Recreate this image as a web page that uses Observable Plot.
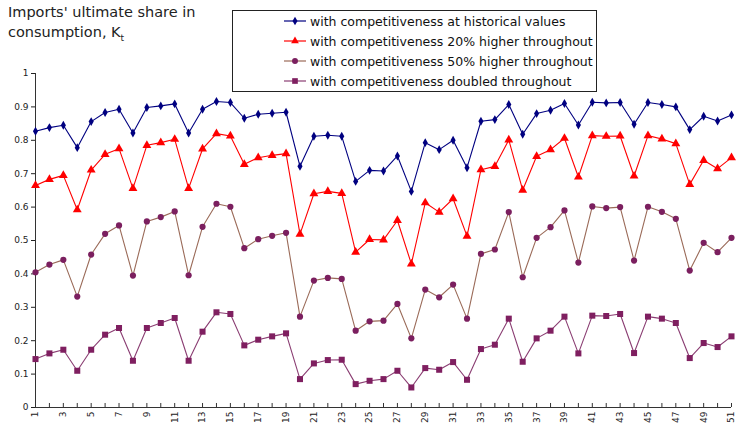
<!DOCTYPE html>
<html><head><meta charset="utf-8">
<script src="https://cdn.jsdelivr.net/npm/d3@7"></script>
<script src="https://cdn.jsdelivr.net/npm/@observablehq/plot@0.6"></script>
<style>
body{margin:0;background:#fff;font-family:"DejaVu Sans",sans-serif;}
#wrap{position:relative;width:750px;height:442px;}
#title{position:absolute;left:8px;top:2px;font-size:14.5px;line-height:20px;color:#222;}
#legend{position:absolute;left:232px;top:10px;width:363px;height:80px;border:1px solid #222;background:#fff;font-size:12.5px;color:#111;}
.row{position:absolute;left:50px;height:20px;display:flex;align-items:center;white-space:nowrap;}
.row svg{margin-right:3px;}
</style></head>
<body><div id="wrap"><div id="chart"></div>
<div id="title">Imports' ultimate share in<br>consumption, K<sub style="font-size:9px">t</sub></div>
<div id="legend"></div></div>
<script>
const periods = d3.range(1, 52);
const seriesNames = [
  "with competitiveness at historical values",
  "with competitiveness 20% higher throughout",
  "with competitiveness 50% higher throughout",
  "with competitiveness doubled throughout"
];
const historical = [0.827,0.838,0.845,0.778,0.856,0.883,0.893,0.822,0.898,0.903,0.909,0.822,0.893,0.916,0.913,0.866,0.878,0.881,0.884,0.722,0.812,0.815,0.812,0.677,0.710,0.708,0.753,0.647,0.793,0.772,0.800,0.718,0.857,0.862,0.907,0.818,0.880,0.890,0.910,0.846,0.914,0.912,0.913,0.848,0.913,0.907,0.900,0.832,0.872,0.858,0.876];
const higher20 = [0.665,0.683,0.695,0.592,0.711,0.758,0.775,0.656,0.785,0.793,0.803,0.656,0.774,0.820,0.813,0.728,0.748,0.755,0.760,0.519,0.640,0.647,0.641,0.465,0.503,0.502,0.560,0.430,0.613,0.585,0.625,0.513,0.712,0.722,0.801,0.651,0.752,0.772,0.806,0.690,0.814,0.812,0.813,0.693,0.814,0.804,0.790,0.668,0.740,0.715,0.748];
const higher50 = [0.405,0.428,0.442,0.332,0.458,0.520,0.545,0.395,0.557,0.570,0.587,0.396,0.541,0.610,0.601,0.477,0.504,0.514,0.523,0.272,0.380,0.388,0.385,0.230,0.258,0.260,0.310,0.207,0.353,0.330,0.368,0.266,0.460,0.473,0.585,0.390,0.508,0.540,0.590,0.434,0.602,0.597,0.600,0.440,0.601,0.586,0.565,0.410,0.493,0.465,0.508];
const doubled = [0.145,0.162,0.173,0.110,0.173,0.218,0.238,0.140,0.238,0.253,0.268,0.140,0.227,0.285,0.280,0.186,0.203,0.213,0.222,0.085,0.132,0.142,0.143,0.070,0.080,0.085,0.110,0.060,0.118,0.113,0.136,0.083,0.175,0.188,0.266,0.137,0.207,0.230,0.272,0.162,0.275,0.274,0.280,0.163,0.272,0.266,0.253,0.148,0.193,0.181,0.213];
const yTicks = [0,0.1,0.2,0.3,0.4,0.5,0.6,0.7,0.8,0.9,1];

const styles = [
  {line:"#000080", fill:"#000080", symbol:"diamond", r:2.7},
  {line:"#ff0000", fill:"#ff0000", symbol:"triangle", r:3.3},
  {line:"#9a6a58", fill:"#7b1f5f", symbol:"circle", r:3.1},
  {line:"#8a3d72", fill:"#7f1f60", symbol:"square", r:3.4}
];
const allSeries = [historical, higher20, higher50, doubled];
const data = allSeries.flatMap((vals, s) => vals.map((v, i) => ({s, x: periods[i], y: v})));

const marks = [
  Plot.ruleY([0], {stroke:"#333"}),
  Plot.ruleX([1], {stroke:"#333"}),
  Plot.ruleX(periods, {y1:0, y2:0.012, stroke:"#333"}),
  Plot.axisY({ticks: yTicks, tickSize:4, tickPadding:3, label:null, tickFormat: d => String(+d.toFixed(1)), fontSize:9, color:"#222"}),
  Plot.axisX({ticks: periods, tickSize:0, tickPadding:4, tickRotate:-90, label:null, tickFormat: d => d % 2 ? String(d) : "", fontSize:9, color:"#222"})
];
styles.forEach((st, s) => {
  const d = data.filter(p => p.s === s);
  marks.push(Plot.line(d, {x:"x", y:"y", stroke: st.line, strokeWidth:1.1}));
  marks.push(Plot.dot(d, {x:"x", y:"y", symbol: () => st.symbol, fill: st.fill, stroke:"none", r: st.r}));
});

const chart = Plot.plot({
  width:750, height:442,
  marginLeft:35, marginRight:19, marginTop:73, marginBottom:35,
  style:{fontFamily:"DejaVu Sans, sans-serif", background:"#fff"},
  x:{domain:[1,51], axis:null, label:null},
  y:{domain:[0,1], axis:null, label:null},
  symbol:{type:"identity"},
  marks
});
document.getElementById("chart").appendChild(chart);

// legend
const leg = document.getElementById("legend");
const symPath = {
  diamond: d3.symbol(d3.symbolDiamond, 22)(),
  triangle: d3.symbol(d3.symbolTriangle, 26)(),
  circle: d3.symbol(d3.symbolCircle, 28)(),
  square: d3.symbol(d3.symbolSquare, 32)()
};
seriesNames.forEach((name, i) => {
  const st = styles[i];
  const row = document.createElement("div");
  row.className = "row";
  row.style.top = (i * 20) + "px";
  row.innerHTML = `<svg width="24" height="12"><line x1="1" x2="23" y1="6" y2="6" stroke="${st.line}" stroke-width="1.2"/><path d="${symPath[st.symbol]}" transform="translate(12,6)" fill="${st.fill}"/></svg><span>${name}</span>`;
  leg.appendChild(row);
});
</script></body></html>
